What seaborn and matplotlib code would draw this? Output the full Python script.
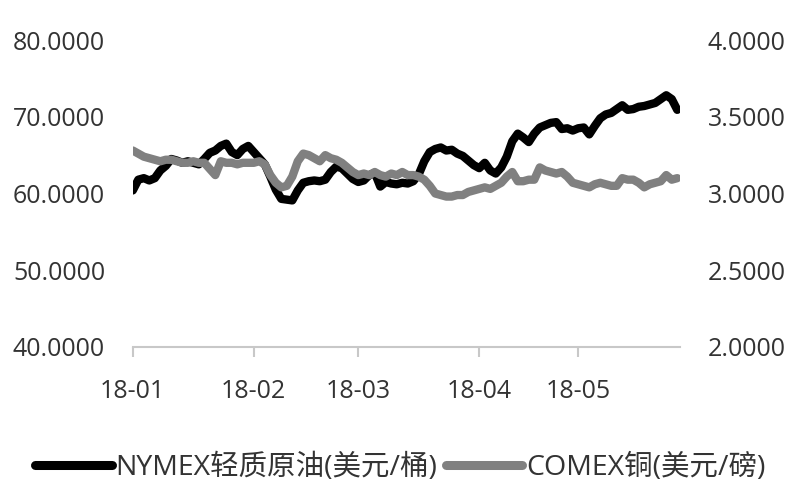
import numpy as np
import pandas as pd
import matplotlib
matplotlib.use("Agg")
import matplotlib.pyplot as plt
import seaborn as sns
from matplotlib.lines import Line2D

# ---- data ----
month_labels = ["18-01", "18-02", "18-03", "18-04", "18-05"]
month_start_index = [0, 22, 41, 63, 81]  # trading-day index of each month start

oil_name = "NYMEX轻质原油(美元/桶)"
copper_name = "COMEX铜(美元/磅)"

oil = [60.4, 61.8, 62.0, 61.7, 62.0, 63.0, 63.6, 64.5, 64.3, 64.0,
       64.2, 64.0, 63.8, 64.5, 65.3, 65.6, 66.2, 66.5, 65.4, 65.0,
       65.8, 66.2, 65.4, 64.6, 63.8, 62.2, 60.5, 59.3, 59.2, 59.1,
       60.4, 61.4, 61.6, 61.7, 61.6, 61.8, 62.8, 63.5, 63.3, 62.6,
       61.9, 61.5, 61.7, 62.4, 62.7, 60.9, 61.5, 61.3, 61.2, 61.4,
       61.3, 61.6, 62.5, 64.2, 65.4, 65.8, 66.0, 65.6, 65.7, 65.2,
       64.9, 64.3, 63.7, 63.3, 64.0, 63.0, 62.6, 63.4, 64.8, 66.8,
       67.8, 67.3, 66.7, 67.8, 68.6, 68.9, 69.2, 69.3, 68.4, 68.5,
       68.2, 68.5, 68.6, 67.7, 68.8, 69.8, 70.3, 70.5, 71.0, 71.5,
       70.9, 71.0, 71.3, 71.4, 71.6, 71.8, 72.3, 72.8, 72.3, 70.9]

copper = [3.28, 3.26, 3.24, 3.23, 3.22, 3.21, 3.22, 3.22, 3.21, 3.20,
          3.20, 3.21, 3.20, 3.20, 3.16, 3.12, 3.21, 3.20, 3.20, 3.19,
          3.20, 3.20, 3.20, 3.21, 3.19, 3.12, 3.07, 3.04, 3.05, 3.11,
          3.21, 3.26, 3.25, 3.23, 3.21, 3.25, 3.23, 3.22, 3.20, 3.17,
          3.14, 3.12, 3.13, 3.12, 3.14, 3.12, 3.11, 3.13, 3.12, 3.14,
          3.12, 3.12, 3.11, 3.09, 3.05, 3.00, 2.99, 2.98, 2.98, 2.99,
          2.99, 3.01, 3.02, 3.03, 3.04, 3.03, 3.05, 3.07, 3.11, 3.14,
          3.08, 3.08, 3.09, 3.09, 3.17, 3.15, 3.14, 3.13, 3.14, 3.11,
          3.07, 3.06, 3.05, 3.04, 3.06, 3.07, 3.06, 3.05, 3.05, 3.10,
          3.09, 3.09, 3.07, 3.04, 3.06, 3.07, 3.08, 3.12, 3.09, 3.10]

left_ticks = [40, 50, 60, 70, 80]
right_ticks = [2.0, 2.5, 3.0, 3.5, 4.0]

df = pd.DataFrame({"day": np.arange(len(oil)), "oil": oil, "copper": copper})

# ---- style ----
sns.set_theme(style="white")
plt.rcParams["font.family"] = ["Open Sans", "Noto Sans CJK SC", "DejaVu Sans"]

text_color = "#333333"
fig = plt.figure(figsize=(8, 5), dpi=100)
ax = fig.add_axes([0.166, 0.306, 0.684, 0.614])
ax2 = ax.twinx()

sns.lineplot(data=df, x="day", y="oil", ax=ax, color="black", linewidth=6,
             solid_capstyle="round", solid_joinstyle="round", legend=False)
sns.lineplot(data=df, x="day", y="copper", ax=ax2, color="#808080", linewidth=6,
             solid_capstyle="round", solid_joinstyle="round", legend=False)

ax.set_xlim(0, 99.5)
ax.set_ylim(40, 80)
ax2.set_ylim(2.0, 4.0)

ax.set_yticks(left_ticks)
ax.set_yticklabels([f"{v:.4f}" for v in left_ticks])
ax2.set_yticks(right_ticks)
ax2.set_yticklabels([f"{v:.4f}" for v in right_ticks])

ax.set_xticks(month_start_index)
ax.set_xticklabels(month_labels)

for a in (ax, ax2):
    a.set_xlabel("")
    a.set_ylabel("")
    for s in ("top", "left", "right", "bottom"):
        a.spines[s].set_visible(False)
    a.grid(False)

ax.spines["bottom"].set_visible(True)
ax.spines["bottom"].set_color("#c8c8c8")
ax.spines["bottom"].set_linewidth(1.5)

ax.tick_params(axis="y", length=0, pad=20, labelsize=18, labelcolor=text_color)
ax2.tick_params(axis="y", length=0, pad=20, labelsize=18, labelcolor=text_color)
ax.tick_params(axis="x", length=7, width=1.5, color="#c8c8c8", direction="out",
               pad=16, labelsize=18, labelcolor=text_color, bottom=True)

handles = [Line2D([0], [0], color="black", linewidth=6.5, solid_capstyle="round"),
           Line2D([0], [0], color="#808080", linewidth=6.5, solid_capstyle="round")]
fig.legend(handles, [oil_name, copper_name], loc="center", ncol=2,
           bbox_to_anchor=(0.5, 0.064), frameon=False, fontsize=20.5,
           handlelength=2.7, handletextpad=0.12, columnspacing=0.3,
           labelcolor=text_color)

fig.savefig("out.png", dpi=100)
